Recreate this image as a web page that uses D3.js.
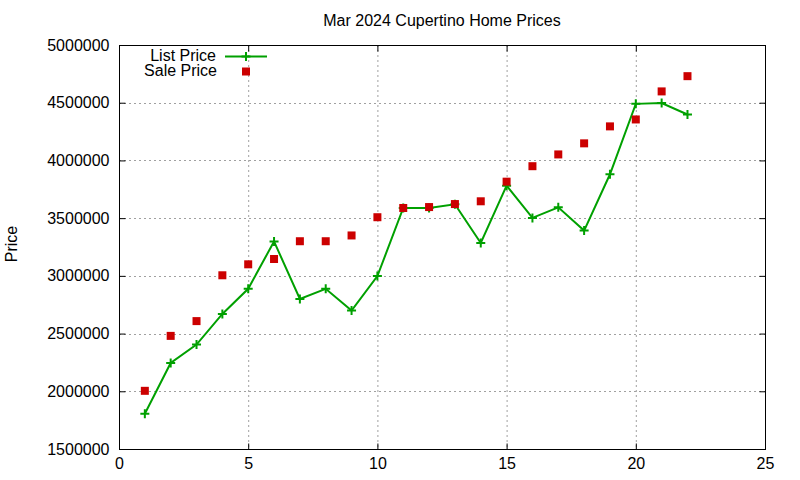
<!DOCTYPE html>
<html>
<head>
<meta charset="utf-8">
<script src="https://cdn.jsdelivr.net/npm/d3@7"></script>
<style>
  html, body { margin: 0; padding: 0; background: #fff; }
  svg { display: block; font-family: "Liberation Sans", Arial, sans-serif; }
</style>
</head>
<body>
<svg id="chart" width="800" height="480"></svg>
<script>
const titleText = "Mar 2024 Cupertino Home Prices";
const yLabel = "Price";
const seriesNames = ["List Price", "Sale Price"];
const xValues = [1,2,3,4,5,6,7,8,9,10,11,12,13,14,15,16,17,18,19,20,21,22];
const listPrice = [1805000,2245000,2405000,2670000,2888000,3298000,2800000,2888000,2700000,2998000,3588000,3588000,3620000,3285000,3781000,3502000,3594000,3392000,3880000,4490000,4497000,4398000];
const salePrice = [2004000,2480000,2608000,3005000,3100000,3146000,3300000,3300000,3350000,3508000,3588000,3596000,3622000,3646000,3816000,3950000,4052000,4148000,4295000,4355000,4598000,4730000];
const xTicks = [0,5,10,15,20,25];
const yTicks = [1500000,2000000,2500000,3000000,3500000,4000000,4500000,5000000];

const svg = d3.select("#chart");
const L = 119, R = 765, T = 45, B = 449;
const x = d3.scaleLinear().domain([0, 25]).range([L, R]);
const y = d3.scaleLinear().domain([1500000, 5000000]).range([B, T]);
const green = "#00a000", red = "#cc0000", gridCol = "#a0a0a0";

// grid
const grid = svg.append("g");
grid.selectAll("line.gx").data(xTicks.filter(d => d > 0 && d < 25)).enter().append("line")
  .attr("x1", d => x(d) + 0.5).attr("x2", d => x(d) + 0.5)
  .attr("y1", T).attr("y2", B)
  .attr("stroke", gridCol).attr("stroke-width", 1).attr("stroke-dasharray", "2,3");
grid.selectAll("line.gy").data(yTicks.filter(d => d > 1500000 && d < 5000000)).enter().append("line")
  .attr("x1", L).attr("x2", R)
  .attr("y1", d => Math.round(y(d)) + 0.5).attr("y2", d => Math.round(y(d)) + 0.5)
  .attr("stroke", gridCol).attr("stroke-width", 1).attr("stroke-dasharray", "2,3");

// axes
const fmt = d3.format("d");
const axL = svg.append("g").attr("transform", `translate(${L + 0.5},0)`)
  .call(d3.axisLeft(y).tickValues(yTicks).tickFormat(fmt).tickSize(-6).tickPadding(10));
const axR = svg.append("g").attr("transform", `translate(${R + 0.5},0)`)
  .call(d3.axisRight(y).tickValues(yTicks).tickFormat("").tickSize(-6));
const axB = svg.append("g").attr("transform", `translate(0,${B + 0.5})`)
  .call(d3.axisBottom(x).tickValues(xTicks).tickFormat(fmt).tickSize(-6).tickPadding(8));
const axT = svg.append("g").attr("transform", `translate(0,${T + 0.5})`)
  .call(d3.axisTop(x).tickValues(xTicks).tickFormat("").tickSize(-6));
[axL, axR, axB, axT].forEach(a => {
  a.select(".domain").remove();
  a.selectAll("line").attr("stroke", "#000");
  a.selectAll("text").attr("font-size", 16).attr("fill", "#000")
    .attr("font-family", "Liberation Sans, Arial, sans-serif");
});
axB.selectAll("text").attr("dy", "0.71em");

svg.append("rect").attr("x", L + 0.5).attr("y", T + 0.5)
  .attr("width", R - L).attr("height", B - T)
  .attr("fill", "none").attr("stroke", "#000").attr("stroke-width", 1);

// title & label
svg.append("text").attr("x", (L + R) / 2).attr("y", 26).attr("text-anchor", "middle")
  .attr("font-size", 16).text(titleText);
svg.append("text").attr("transform", "translate(17,244) rotate(-90)")
  .attr("text-anchor", "middle").attr("font-size", 16).text(yLabel);

// list price line
const pts = xValues.map((d, i) => ({x: d, l: listPrice[i], s: salePrice[i]}));
svg.append("path").datum(pts)
  .attr("d", d3.line().x(d => x(d.x)).y(d => y(d.l)))
  .attr("fill", "none").attr("stroke", green).attr("stroke-width", 2);
function plus(g, cx, cy) {
  g.append("path").attr("d", `M${cx-4.5},${cy}H${cx+4.5}M${cx},${cy-4.5}V${cy+4.5}`)
    .attr("stroke", green).attr("stroke-width", 2);
}
const marks = svg.append("g");
pts.forEach(d => plus(marks, x(d.x), y(d.l)));

// sale price squares
svg.append("g").selectAll("rect").data(pts).enter().append("rect")
  .attr("x", d => x(d.x) - 4).attr("y", d => y(d.s) - 4)
  .attr("width", 8).attr("height", 8).attr("fill", red);

// legend
const leg = svg.append("g");
leg.append("text").attr("x", 216).attr("y", 61).attr("text-anchor", "end")
  .attr("font-size", 16).text(seriesNames[0]);
leg.append("line").attr("x1", 225).attr("x2", 267).attr("y1", 56.5).attr("y2", 56.5)
  .attr("stroke", green).attr("stroke-width", 2);
plus(leg, 246, 56.5);
leg.append("text").attr("x", 217).attr("y", 76).attr("text-anchor", "end")
  .attr("font-size", 16).text(seriesNames[1]);
leg.append("rect").attr("x", 242).attr("y", 67.5).attr("width", 8).attr("height", 8).attr("fill", red);
</script>
</body>
</html>
